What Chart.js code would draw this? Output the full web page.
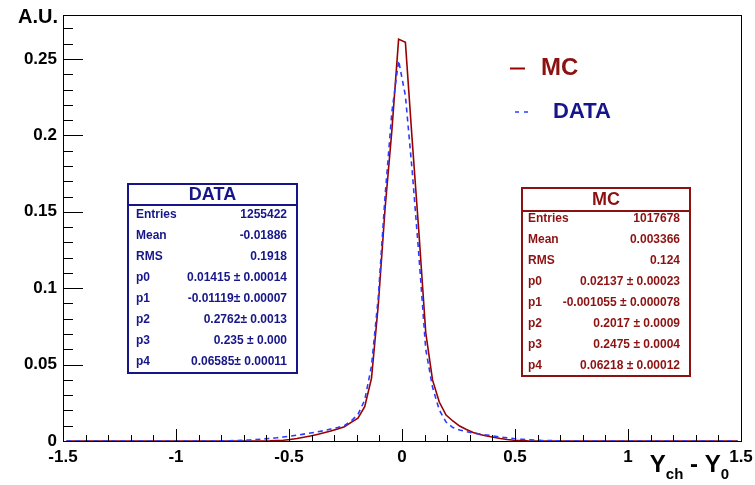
<!DOCTYPE html>
<html>
<head>
<meta charset="utf-8">
<script src="https://cdn.jsdelivr.net/npm/chart.js@4.4.1/dist/chart.umd.min.js"></script>
<style>
html,body{margin:0;padding:0;background:#fff;}
#box{width:755px;height:485px;}
</style>
</head>
<body>
<div id="box"><canvas id="resChart" width="755" height="485"></canvas></div>
<script>
// bin centres (bin width 0.03), empty bins outside the peak region are all zero
const binCenters=[-1.485,
    -0.825,-0.795,-0.765,-0.735,-0.705,-0.675,-0.645,-0.615,-0.585,-0.555,
    -0.525,-0.495,-0.465,-0.435,-0.405,-0.375,-0.345,-0.315,-0.285,-0.255,
    -0.225,-0.195,-0.165,-0.135,-0.105,-0.075,-0.045,-0.015,
    0.015,0.045,0.075,0.105,0.135,0.165,0.195,0.225,0.255,0.285,
    0.315,0.345,0.375,0.405,0.435,0.465,0.495,0.525,0.555,0.585,
    0.615,0.645,0.675,0.705,0.735,
    1.485];

const mcValues=[0,
    0,0,0,0,0,0,0,0,0.0001,0.0003,
    0.0005,0.0010,0.0016,0.0024,0.0033,0.0043,0.0054,0.0066,0.0079,0.0093,
    0.0122,0.0150,0.0224,0.0410,0.0890,0.1520,0.2030,0.2630,
    0.2610,0.1970,0.1360,0.0710,0.0400,0.0255,0.0170,0.0131,0.0098,0.0075,
    0.0056,0.0043,0.0033,0.0024,0.0016,0.0010,0.0005,0.0003,0.0001,0,
    0,0,0,0,0,
    0];

const dataValues=[0,
    0,0.0001,0.0002,0.0003,0.0005,0.0007,0.0010,0.0013,0.0017,0.0021,
    0.0026,0.0032,0.0038,0.0045,0.0052,0.0060,0.0068,0.0078,0.0088,0.0100,
    0.0131,0.0173,0.0268,0.0490,0.0940,0.1600,0.2150,0.2490,
    0.2260,0.1770,0.1210,0.0600,0.0353,0.0203,0.0124,0.0088,0.0072,0.0061,
    0.0052,0.0046,0.0039,0.0033,0.0026,0.0021,0.0016,0.0012,0.0009,0.0006,
    0.0004,0.0003,0.0002,0.0001,0,
    0];

// stat box contents
const statNames=["Entries","Mean","RMS","p0","p1","p2","p3","p4"];
const dataStats=["1255422","-0.01886","0.1918","0.01415 \u00b1 0.00014","-0.01119\u00b1 0.00007",
    "0.2762\u00b1 0.0013","0.235 \u00b1 0.000","0.06585\u00b1 0.00011"];
const mcStats=["1017678","0.003366","0.124","0.02137 \u00b1 0.00023","-0.001055 \u00b1 0.000078",
    "0.2017 \u00b1 0.0009","0.2475 \u00b1 0.0004","0.06218 \u00b1 0.00012"];

const xTicks=[-1.5,-1,-0.5,0,0.5,1,1.5];
const yTicks=[0,0.05,0.1,0.15,0.2,0.25];

const FONT="'Liberation Sans', Arial, Helvetica, sans-serif";
const mcLine="#990000";
const mcText="#8c1212";
const dataLine="#2b3cff";
const dataText="#16168a";

function toPoints(vals){
    var pts=[];
    for(var i=0;i<binCenters.length;i++){
        pts.push({x:binCenters[i],y:vals[i]});
    }
    return pts;
}

function fmt(v){
    return String(Math.round(v*100)/100);
}

function statBox(ctx,b,title,values,color){
    ctx.save();
    ctx.fillStyle="#fff";
    ctx.fillRect(b.x,b.y,b.w,b.h);
    ctx.strokeStyle=color;
    ctx.lineWidth=2;
    ctx.strokeRect(b.x,b.y,b.w,b.h);
    ctx.beginPath();
    ctx.moveTo(b.x,b.sep);
    ctx.lineTo(b.x+b.w,b.sep);
    ctx.stroke();
    ctx.fillStyle=color;
    ctx.textBaseline="middle";
    ctx.font="bold 18px "+FONT;
    ctx.textAlign="center";
    ctx.fillText(title,b.x+b.w/2,(b.y+b.sep)/2+1);
    ctx.font="bold 12px "+FONT;
    for(var i=0;i<statNames.length;i++){
        var yy=b.row0+i*b.step;
        ctx.textAlign="left";
        ctx.fillText(statNames[i],b.labelX,yy);
        ctx.textAlign="right";
        ctx.fillText(values[i],b.valueX,yy);
    }
    ctx.restore();
}

// frame, inward ticks, legend, stat boxes and axis titles
const decorations={
    id:"decorations",
    afterDraw(chart){
        const ctx=chart.ctx;
        const a=chart.chartArea;
        const xs=chart.scales.x;
        const ys=chart.scales.y;
        ctx.save();
        ctx.strokeStyle="#000";
        ctx.lineWidth=1;
        ctx.strokeRect(a.left+0.5,a.top+0.5,a.right-a.left,a.bottom-a.top);

        ctx.beginPath();
        for(var k=0;k<=27;k++){
            var py=Math.round(ys.getPixelForValue(k*0.01))+0.5;
            var len=(k%5===0)?20:10;
            ctx.moveTo(a.left,py);
            ctx.lineTo(a.left+len,py);
        }
        for(var j=-15;j<=15;j++){
            var px=Math.round(xs.getPixelForValue(j*0.1))+0.5;
            var l2=(j%5===0)?12:6;
            ctx.moveTo(px,a.bottom);
            ctx.lineTo(px,a.bottom-l2);
        }
        ctx.stroke();

        // legend
        ctx.lineWidth=2;
        ctx.strokeStyle=mcLine;
        ctx.beginPath();
        ctx.moveTo(510,68.5);
        ctx.lineTo(525,68.5);
        ctx.stroke();
        ctx.strokeStyle=dataLine;
        ctx.lineWidth=1.5;
        ctx.setLineDash([4,5]);
        ctx.beginPath();
        ctx.moveTo(515,112);
        ctx.lineTo(532,112);
        ctx.stroke();
        ctx.setLineDash([]);
        ctx.textBaseline="alphabetic";
        ctx.textAlign="left";
        ctx.fillStyle=mcText;
        ctx.font="bold 24px "+FONT;
        ctx.fillText("MC",541,75);
        ctx.fillStyle=dataText;
        ctx.font="bold 22px "+FONT;
        ctx.fillText("DATA",553,118);

        // axis titles
        ctx.fillStyle="#000";
        ctx.font="bold 20px "+FONT;
        ctx.textAlign="right";
        ctx.fillText("A.U.",58,23);

        var big="bold 24px "+FONT;
        var small="bold 15px "+FONT;
        var parts=[["Y",big,0],["ch",small,7],[" - ",big,0],["Y",big,0],["0",small,7]];
        var total=0;
        for(var p=0;p<parts.length;p++){
            ctx.font=parts[p][1];
            total+=ctx.measureText(parts[p][0]).width;
        }
        var tx=729-total;
        ctx.textAlign="left";
        for(var q=0;q<parts.length;q++){
            ctx.font=parts[q][1];
            ctx.fillText(parts[q][0],tx,472+parts[q][2]);
            tx+=ctx.measureText(parts[q][0]).width;
        }
        ctx.restore();

        statBox(ctx,{x:128,y:184,w:169,h:189,sep:205,row0:215,step:21,labelX:136,valueX:287},
            "DATA",dataStats,dataText);
        statBox(ctx,{x:522,y:188,w:168,h:188,sep:211,row0:219,step:21,labelX:528,valueX:680},
            "MC",mcStats,mcText);
    }
};

let resCtx=document.getElementById("resChart").getContext("2d");
let resChart=new Chart(resCtx,{
    type:"line",
    data:{
        datasets:[
            {
                label:"DATA",
                data:toPoints(dataValues),
                borderColor:dataLine,
                borderWidth:1.6,
                borderDash:[5,4],
                pointRadius:0,
                tension:0,
                fill:false
            },
            {
                label:"MC",
                data:toPoints(mcValues),
                borderColor:mcLine,
                borderWidth:1.6,
                pointRadius:0,
                tension:0,
                fill:false
            }
        ]
    },
    options:{
        responsive:false,
        animation:false,
        layout:{padding:{top:15,right:14,left:0,bottom:0}},
        plugins:{
            legend:{display:false},
            tooltip:{enabled:false}
        },
        scales:{
            x:{
                type:"linear",
                min:-1.5,
                max:1.5,
                afterFit:function(s){s.height=44;s.paddingLeft=0;s.paddingRight=0;},
                afterBuildTicks:function(s){s.ticks=xTicks.map(function(v){return {value:v};});},
                grid:{display:false,drawTicks:false},
                border:{display:false},
                ticks:{
                    padding:6,
                    maxRotation:0,
                    autoSkip:false,
                    color:"#000",
                    font:{family:FONT,size:17,weight:"bold"},
                    callback:function(v){return fmt(v);}
                }
            },
            y:{
                type:"linear",
                min:0,
                max:0.2788,
                afterFit:function(s){s.width=63;s.paddingTop=0;s.paddingBottom=0;},
                afterBuildTicks:function(s){s.ticks=yTicks.map(function(v){return {value:v};});},
                grid:{display:false,drawTicks:false},
                border:{display:false},
                ticks:{
                    padding:6,
                    color:"#000",
                    font:{family:FONT,size:17,weight:"bold"},
                    callback:function(v){return fmt(v);}
                }
            }
        }
    },
    plugins:[decorations]
});
</script>
</body>
</html>
